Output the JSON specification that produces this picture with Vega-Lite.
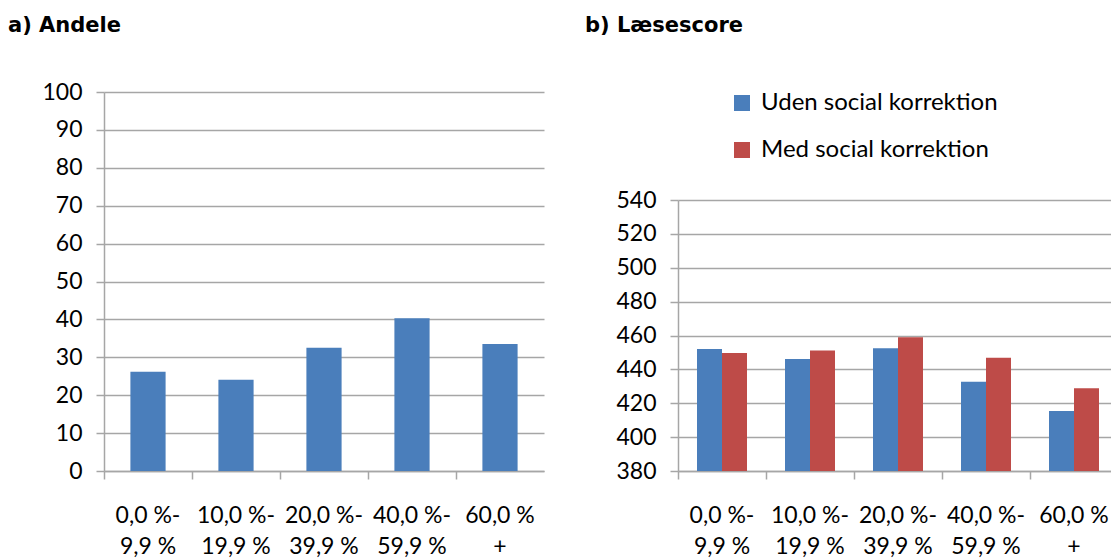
{
  "$schema": "https://vega.github.io/schema/vega-lite/v6.json",
  "padding": {"left": 7, "top": 15, "right": 0, "bottom": 0},
  "background": "white",
  "config": {
    "view": {"stroke": null},
    "font": "Lato",
    "axis": {
      "labelFont": "Lato", "labelFontSize": 23, "labelColor": "#000000",
      "domainColor": "#A6A6A6", "tickColor": "#A6A6A6", "gridColor": "#A6A6A6",
      "domainWidth": 1.5, "tickWidth": 1.5, "gridWidth": 1.5, "tickSize": 8, "title": null
    },
    "title": {"font": "DejaVu Sans", "fontSize": 21, "fontWeight": "bold", "anchor": "start", "color": "#000000"},
    "concat": {"spacing": 40}
  },
  "resolve": {"legend": {"color": "independent"}, "scale": {"color": "independent"}},
  "hconcat": [
    {
      "width": 440,
      "height": 379,
      "title": {"text": "a) Andele", "dx": -34, "offset": 45},
      "data": {"values": [
        {"gruppe": "0,0 %-|9,9 %", "andel": 26.2},
        {"gruppe": "10,0 %-|19,9 %", "andel": 24.1},
        {"gruppe": "20,0 %-|39,9 %", "andel": 32.5},
        {"gruppe": "40,0 %-|59,9 %", "andel": 40.3},
        {"gruppe": "60,0 %|+", "andel": 33.5}
      ]},
      "mark": {"type": "bar", "width": {"band": 0.4}, "color": "#4A7EBB"},
      "encoding": {
        "x": {
          "field": "gruppe", "type": "nominal", "sort": null,
          "scale": {"paddingInner": 0, "paddingOuter": 0},
          "axis": {"labelAngle": 0, "bandPosition": 0, "labelPadding": 25, "labelExpr": "split(datum.value, '|')", "labelLineHeight": 31.5, "grid": false, "labelAlign": "center"}
        },
        "y": {
          "field": "andel", "type": "quantitative",
          "scale": {"domain": [0, 100]},
          "axis": {"values": [0, 10, 20, 30, 40, 50, 60, 70, 80, 90, 100], "labelPadding": 14}
        }
      }
    },
    {
      "width": 440,
      "height": 379,
      "title": {"text": "b) Læsescore", "dx": -31, "offset": 55},
      "data": {"values": [
        {"gruppe": "0,0 %-|9,9 %", "serie": "Uden social korrektion", "score": 452.1},
        {"gruppe": "0,0 %-|9,9 %", "serie": "Med social korrektion", "score": 449.7},
        {"gruppe": "10,0 %-|19,9 %", "serie": "Uden social korrektion", "score": 446.1},
        {"gruppe": "10,0 %-|19,9 %", "serie": "Med social korrektion", "score": 451.1},
        {"gruppe": "20,0 %-|39,9 %", "serie": "Uden social korrektion", "score": 452.4},
        {"gruppe": "20,0 %-|39,9 %", "serie": "Med social korrektion", "score": 459.0},
        {"gruppe": "40,0 %-|59,9 %", "serie": "Uden social korrektion", "score": 432.7},
        {"gruppe": "40,0 %-|59,9 %", "serie": "Med social korrektion", "score": 446.9},
        {"gruppe": "60,0 %|+", "serie": "Uden social korrektion", "score": 415.4},
        {"gruppe": "60,0 %|+", "serie": "Med social korrektion", "score": 428.8}
      ]},
      "mark": {"type": "bar", "clip": true},
      "encoding": {
        "x": {
          "field": "gruppe", "type": "nominal", "sort": null,
          "scale": {"paddingInner": 0, "paddingOuter": 0},
          "axis": {"labelAngle": 0, "bandPosition": 0, "labelPadding": 25, "labelExpr": "split(datum.value, '|')", "labelLineHeight": 31.5, "grid": false, "labelAlign": "center"}
        },
        "xOffset": {
          "field": "serie", "type": "nominal",
          "sort": ["Uden social korrektion", "Med social korrektion"],
          "scale": {"paddingInner": 0, "paddingOuter": 0.76}
        },
        "y": {
          "field": "score", "type": "quantitative",
          "scale": {"domain": [380, 540], "zero": false, "range": [379, 108]},
          "axis": {"values": [380, 400, 420, 440, 460, 480, 500, 520, 540], "labelPadding": 14}
        },
        "color": {
          "field": "serie", "type": "nominal",
          "sort": ["Uden social korrektion", "Med social korrektion"],
          "scale": {"domain": ["Uden social korrektion", "Med social korrektion"], "range": ["#4A7EBB", "#BE4B48"]},
          "legend": {
            "title": null, "orient": "none", "legendX": 52, "legendY": -1,
            "symbolType": "square", "symbolSize": 256, "symbolStrokeWidth": 0,
            "labelFont": "Lato", "labelFontSize": 24, "labelColor": "#000000", "labelLimit": 0,
            "rowPadding": 23, "labelOffset": 7, "padding": 0
          }
        }
      }
    }
  ]
}
